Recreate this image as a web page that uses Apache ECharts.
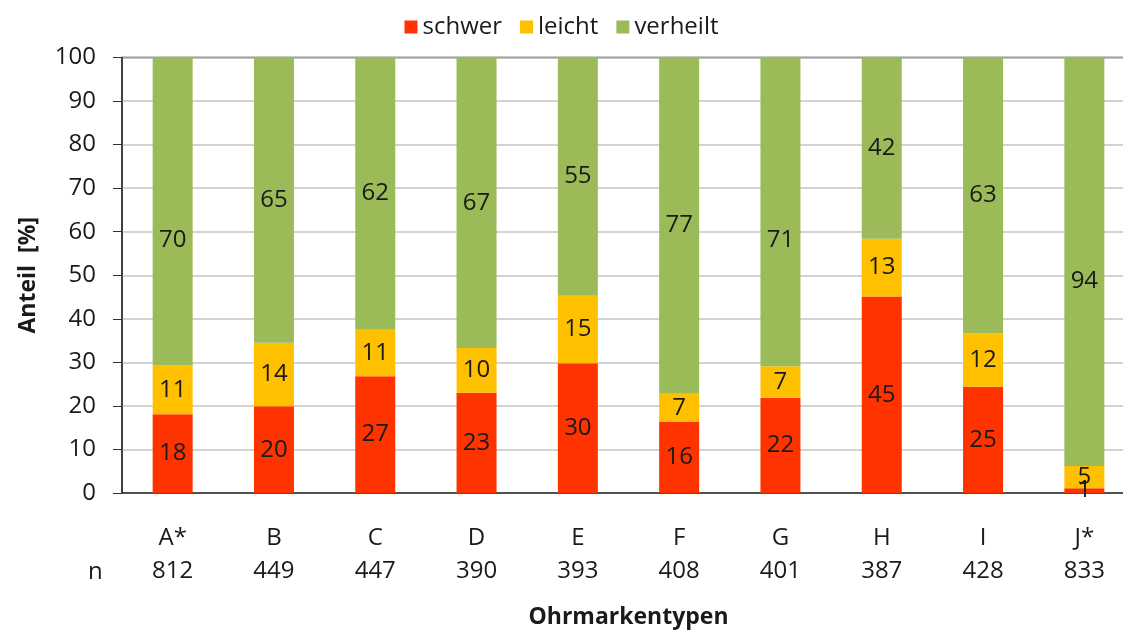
<!DOCTYPE html>
<html>
<head>
<meta charset="utf-8">
<script src="https://cdn.jsdelivr.net/npm/echarts@6/dist/echarts.min.js"></script>
<style>
  html, body { margin: 0; padding: 0; background: #fff; }
  #chart { width: 1123px; height: 631px; }
</style>
</head>
<body>
<div id="chart"></div>
<script>
// Ohrmarkentypen und Anzahl je Typ
const categories = ['A*', 'B', 'C', 'D', 'E', 'F', 'G', 'H', 'I', 'J*']
const counts = [812, 449, 447, 390, 393, 408, 401, 387, 428, 833]

// Anteile in %
const schwer = [18.1, 19.9, 26.8, 23.0, 29.8, 16.3, 21.9, 45.1, 24.4, 1.1]
const leicht = [11.2, 14.6, 10.7, 10.3, 15.5, 6.5, 7.2, 13.3, 12.2, 5.1]
const verheilt = [70.7, 65.5, 62.5, 66.7, 54.7, 77.2, 70.9, 41.6, 63.4, 93.8]

// Beschriftungen wie im Original (gerundet)
const schwerLabels = [18, 20, 27, 23, 30, 16, 22, 45, 25, 1]
const leichtLabels = [11, 14, 11, 10, 15, 7, 7, 13, 12, 5]
const verheiltLabels = [70, 65, 62, 67, 55, 77, 71, 42, 63, 94]

const font = '"Open Sans", sans-serif'
const textColor = '#1a1a1a'

// im Original von Hand verschobene Beschriftungen (Index -> px nach unten)
const verheiltLabelShift = {0: 29, 6: 28, 9: 19}

let chart = echarts.init(document.getElementById('chart'))

function makeSeries(name, data, labels, color, shift) {
    return {
        name: name,
        type: 'bar',
        stack: 'total',
        barWidth: 40,
        data: data.map((v, i) => {
            let item = {value: v}
            if (shift && shift[i]) item.label = {offset: [0, shift[i]]}
            return item
        }),
        itemStyle: {color: color},
        label: {
            show: true,
            position: 'inside',
            color: textColor,
            fontFamily: font,
            fontSize: 24,
            formatter: p => labels[p.dataIndex]
        }
    }
}

chart.setOption({
    animation: false,
    legend: {
        top: 10,
        left: 'center',
        icon: 'rect',
        itemWidth: 13,
        itemHeight: 13,
        itemGap: 18,
        textStyle: {fontFamily: font, fontSize: 24, color: textColor},
        data: ['schwer', 'leicht', 'verheilt']
    },
    grid: {
        left: 122,
        top: 57.5,
        width: 1013,
        height: 435.5,
        show: true,
        borderColor: '#333',
        borderWidth: 1.5,
        containLabel: false,
        outerBoundsMode: 'none'
    },
    xAxis: {
        type: 'category',
        data: categories,
        name: 'Ohrmarkentypen',
        nameLocation: 'middle',
        nameGap: 113,
        nameTextStyle: {fontFamily: font, fontSize: 23, fontWeight: 'bold', color: textColor},
        axisLine: {lineStyle: {color: '#333', width: 1.5}},
        axisTick: {length: 9, lineStyle: {color: '#333'}},
        axisLabel: {
            interval: 0,
            margin: 29,
            fontFamily: font,
            fontSize: 24,
            lineHeight: 33,
            color: textColor,
            formatter: (v, i) => v + '\n' + counts[i]
        }
    },
    yAxis: {
        type: 'value',
        min: 0,
        max: 100,
        interval: 10,
        name: 'Anteil  [%]',
        nameLocation: 'middle',
        nameGap: 82,
        nameTextStyle: {fontFamily: font, fontSize: 23, fontWeight: 'bold', color: textColor},
        axisLine: {show: true, lineStyle: {color: '#333', width: 1.5}},
        axisTick: {show: true, length: 9, lineStyle: {color: '#333'}},
        axisLabel: {fontFamily: font, fontSize: 24, color: textColor, margin: 26},
        splitLine: {lineStyle: {color: '#c4c4c4', width: 1.5}}
    },
    graphic: [{
        type: 'text',
        left: 88,
        top: 560,
        style: {text: 'n', fontFamily: font, fontSize: 24, fill: textColor}
    }],
    series: [
        makeSeries('schwer', schwer, schwerLabels, '#ff3300'),
        makeSeries('leicht', leicht, leichtLabels, '#ffc000'),
        makeSeries('verheilt', verheilt, verheiltLabels, '#9bbb59', verheiltLabelShift)
    ]
})
</script>
</body>
</html>
